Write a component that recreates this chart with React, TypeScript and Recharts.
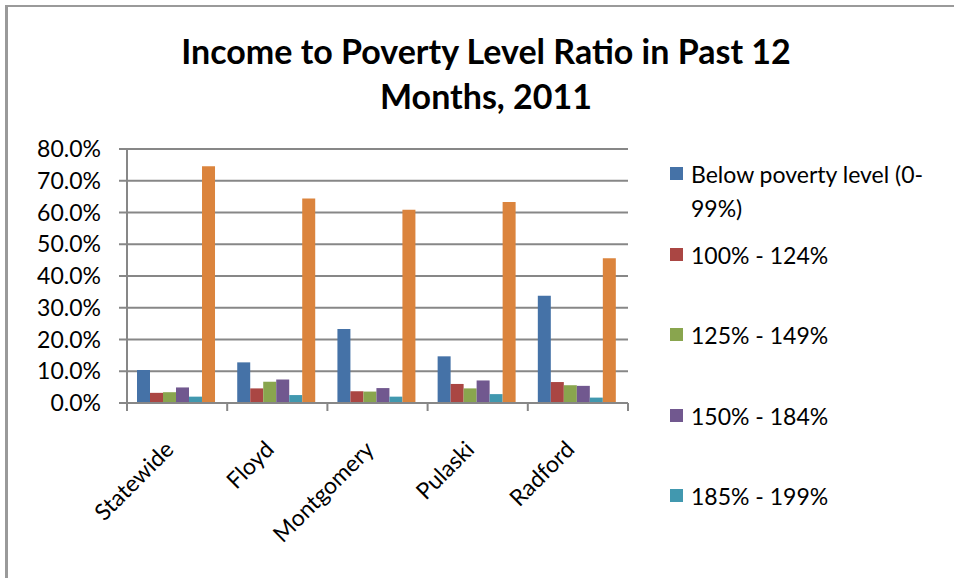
import React from 'react';
import { BarChart, Bar, XAxis, YAxis, CartesianGrid } from 'recharts';

const categories = ['Statewide', 'Floyd', 'Montgomery', 'Pulaski', 'Radford'];
const below = [10.4, 12.8, 23.3, 14.7, 33.8];
const r100 = [3.2, 4.6, 3.7, 6.0, 6.6];
const r125 = [3.4, 6.7, 3.6, 4.6, 5.6];
const r150 = [4.9, 7.4, 4.7, 7.1, 5.4];
const r185 = [2.0, 2.5, 2.0, 2.8, 1.7];
const r200 = [74.6, 64.4, 60.9, 63.3, 45.6];
const yTicks = [0, 10, 20, 30, 40, 50, 60, 70, 80];

const series = [
  { key: 'below', name: 'Below poverty level (0-99%)', color: '#4572A7', values: below },
  { key: 'r100', name: '100% - 124%', color: '#AA4643', values: r100 },
  { key: 'r125', name: '125% - 149%', color: '#89A54E', values: r125 },
  { key: 'r150', name: '150% - 184%', color: '#71588F', values: r150 },
  { key: 'r185', name: '185% - 199%', color: '#4198AF', values: r185 },
  { key: 'r200', name: '200% and over', color: '#DB843D', values: r200 },
];

const data = categories.map((name, i) => {
  const row: Record<string, string | number> = { name };
  series.forEach((s) => {
    row[s.key] = s.values[i];
  });
  return row;
});

const FONT = 'Lato, "Liberation Sans", sans-serif';
const AXIS_GRAY = '#878787';

const CategoryTick = (props: any) => {
  const { x, y, payload, index, visibleTicksCount } = props;
  const half = payload && payload.offset ? payload.offset : 50;
  const last = index === visibleTicksCount - 1;
  const tx = x - 2;
  const ty = y + 40;
  return (
    <g>
      <line x1={x - half} x2={x - half} y1={y - 8} y2={y} stroke={AXIS_GRAY} strokeWidth={2} />
      {last && <line x1={x + half} x2={x + half} y1={y - 8} y2={y} stroke={AXIS_GRAY} strokeWidth={2} />}
      <text
        x={tx}
        y={ty}
        textAnchor="end"
        transform={`rotate(-45, ${tx}, ${ty})`}
        fontSize={23}
        fontFamily={FONT}
        fill="#000"
      >
        {payload.value}
      </text>
    </g>
  );
};

// legend is cut off in the original, the orange series has no entry
const LegendBox = () => (
  <div
    style={{
      position: 'absolute',
      left: 670,
      top: 157,
      width: 284,
      fontFamily: FONT,
      fontSize: 23,
      color: '#000',
    }}
  >
    {series.slice(0, 5).map((s) => (
      <div key={s.key} style={{ display: 'flex', alignItems: 'flex-start', height: 80.5 }}>
        <span
          style={{
            display: 'inline-block',
            width: 13,
            height: 13,
            background: s.color,
            marginTop: 10,
            marginRight: 8,
            flex: 'none',
          }}
        />
        <span style={{ lineHeight: '34px', maxWidth: 262 }}>{s.name}</span>
      </div>
    ))}
  </div>
);

export default function App() {
  return (
    <div
      style={{
        position: 'fixed',
        left: 0,
        top: 0,
        width: 954,
        height: 578,
        background: '#fff',
        overflow: 'hidden',
      }}
    >
      <div
        style={{
          position: 'absolute',
          left: 5,
          top: 5,
          width: 1000,
          height: 1000,
          borderLeft: '3px solid #9a9a9a',
          borderTop: '2px solid #9a9a9a',
        }}
      />
      <div
        style={{
          position: 'absolute',
          left: 0,
          width: 972,
          top: 28,
          textAlign: 'center',
          fontFamily: FONT,
          fontWeight: 700,
          fontSize: 34,
          lineHeight: '45px',
          color: '#000',
        }}
      >
        Income to Poverty Level Ratio in Past 12
        <br />
        Months, 2011
      </div>
      <div style={{ position: 'absolute', left: 0, top: 0 }}>
        <BarChart
          width={954}
          height={578}
          data={data}
          margin={{ top: 149, right: 326, bottom: 75, left: 47 }}
          barCategoryGap="10%"
          barGap={0}
        >
          <CartesianGrid vertical={false} stroke={AXIS_GRAY} strokeWidth={2} />
          <XAxis
            dataKey="name"
            interval={0}
            tickLine={false}
            tickSize={8}
            tickMargin={0}
            height={100}
            axisLine={{ stroke: AXIS_GRAY, strokeWidth: 2 }}
            tick={<CategoryTick />}
          />
          <YAxis
            width={80}
            domain={[0, 80]}
            ticks={yTicks}
            interval={0}
            tickSize={8}
            tickMargin={18}
            tickFormatter={(v: number) => `${v.toFixed(1)}%`}
            tick={{ fontSize: 23, fontFamily: FONT, fill: '#000' }}
            tickLine={{ stroke: AXIS_GRAY, strokeWidth: 2 }}
            axisLine={{ stroke: AXIS_GRAY, strokeWidth: 2 }}
          />
          {series.map((s) => (
            <Bar key={s.key} dataKey={s.key} name={s.name} fill={s.color} isAnimationActive={false} />
          ))}
        </BarChart>
      </div>
      <LegendBox />
    </div>
  );
}
